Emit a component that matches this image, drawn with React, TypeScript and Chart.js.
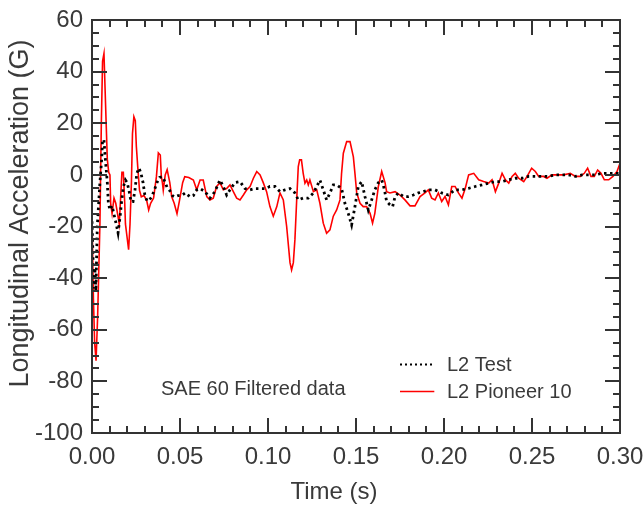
import React, { useEffect, useRef } from "react";
import { Chart, registerables } from "chart.js";

Chart.register(...registerables);

// ---- data ----
const testTime = [
  0, 0.0005, 0.001, 0.0016, 0.0022, 0.003, 0.0045, 0.0055, 0.006, 0.0068, 0.0076, 0.0087, 0.0093, 0.0102,
  0.0114, 0.0124, 0.0136, 0.0148, 0.016, 0.0167, 0.0178, 0.019, 0.02, 0.021, 0.0222, 0.0233, 0.0244, 0.0255,
  0.0267, 0.0278, 0.029, 0.03, 0.0312, 0.0323, 0.0339, 0.0354, 0.0369, 0.0384, 0.04, 0.041, 0.0426, 0.0441,
  0.0456, 0.047, 0.049, 0.051, 0.053, 0.0557, 0.0576, 0.0595, 0.0614, 0.0642, 0.067, 0.0698, 0.0727, 0.0746,
  0.0765, 0.0784, 0.0812, 0.0841, 0.0869, 0.0898, 0.0926, 0.0955, 0.0983, 0.1011, 0.104, 0.1068, 0.1097,
  0.1125, 0.1153, 0.1172, 0.12, 0.1229, 0.1258, 0.1277, 0.1295, 0.1314, 0.1333, 0.1352, 0.1371, 0.139, 0.1418,
  0.1437, 0.1456, 0.1475, 0.1494, 0.1513, 0.1532, 0.1551, 0.157, 0.1589, 0.1607, 0.1627, 0.1646, 0.1655,
  0.1665, 0.1674, 0.1693, 0.1708, 0.1722, 0.1741, 0.1769, 0.1797, 0.1826, 0.1854, 0.1883, 0.1911, 0.1949,
  0.1987, 0.2025, 0.2063, 0.2102, 0.214, 0.2178, 0.2216, 0.2254, 0.2292, 0.233, 0.2368, 0.2405, 0.2443,
  0.2481, 0.2519, 0.2557, 0.2594, 0.2633, 0.267, 0.2708, 0.2746, 0.2784, 0.2822, 0.286, 0.2898, 0.2936,
  0.2974, 0.3,
];
const testAccel = [
  -18, -30, -44, -36, -45, -20, -3, 6, 13.6, 13.5, 6, -3, -11, -13.6,
  -12, -15, -18.6, -22.5, -16, -11, -4.7, -2, -3, -6, -10.4, -10.4, -6, 0.7,
  2.6, 0.7, -3, -7.7, -10, -10, -8.5, -6, -3, -1, -0.7, -2, -4.7, -6,
  -8, -8.5, -8, -8, -7, -8.5, -8, -5.8, -5.3, -6.5, -9, -6.5, -2, -4.5,
  -7.8, -5.8, -3, -2.6, -5.3, -5.8, -5.3, -5.3, -5.3, -4.5, -4.5, -6.5, -5.8,
  -5.3, -7, -9.7, -9, -9, -7, -4.5, -2, -5.8, -9.7, -7, -3.9, -3.9, -5.3,
  -11, -14.9, -19.4, -12.3, -4.5, -2.6, -8.4, -13.6, -9.7, -5.8, -3, -2, -3.9,
  -7, -10.3, -11.6, -12.3, -8.4, -7, -8.4, -8.4, -7.8, -7, -6.5, -5.8, -5.8,
  -7, -7.8, -5.8, -5.8, -5.2, -4.5, -3.9, -3.2, -2.6, -2.6, -1.9, -1.3, -1.3,
  -0.6, -0.6, -0.6, -0.6, 0, 0, 0, -0.6, 0, 0, 0, 0.6, 0.6,
  0.6, 0.6,
];

const pioneerTime = [
  0, 0.0008, 0.0015, 0.0023, 0.0032, 0.0045, 0.0053, 0.006, 0.0068, 0.008, 0.0087, 0.0095, 0.0102, 0.0106,
  0.0114, 0.0125, 0.0135, 0.0155, 0.017, 0.0178, 0.0186, 0.019, 0.0208, 0.0216, 0.0224, 0.023, 0.0238, 0.0246,
  0.0252, 0.026, 0.027, 0.028, 0.0295, 0.031, 0.0322, 0.0333, 0.035, 0.0366, 0.0377, 0.0388, 0.0394, 0.04,
  0.0405, 0.0416, 0.0427, 0.0442, 0.0453, 0.0467, 0.0483, 0.0497, 0.0515, 0.0527, 0.055, 0.0576, 0.0595,
  0.0614, 0.0632, 0.0652, 0.067, 0.0689, 0.0708, 0.0727, 0.0746, 0.0765, 0.0784, 0.0803, 0.0822, 0.0841,
  0.086, 0.0879, 0.0898, 0.0917, 0.0936, 0.0955, 0.0973, 0.0992, 0.1011, 0.103, 0.105, 0.1068, 0.1087, 0.1106,
  0.1125, 0.1134, 0.1144, 0.1153, 0.1163, 0.1172, 0.118, 0.119, 0.12, 0.121, 0.122, 0.1229, 0.1238, 0.1258,
  0.1277, 0.1295, 0.1314, 0.1333, 0.1352, 0.1371, 0.139, 0.1409, 0.1418, 0.1428, 0.1447, 0.1466, 0.1485,
  0.1494, 0.1504, 0.1523, 0.1541, 0.156, 0.158, 0.1594, 0.1607, 0.1627, 0.1646, 0.1665, 0.1674, 0.1693,
  0.1722, 0.175, 0.1778, 0.1807, 0.1835, 0.1864, 0.1892, 0.1911, 0.193, 0.1949, 0.1968, 0.1987, 0.2006,
  0.2025, 0.2044, 0.2063, 0.2082, 0.2102, 0.2121, 0.214, 0.2169, 0.2197, 0.2225, 0.2254, 0.2273, 0.2292,
  0.2311, 0.233, 0.2349, 0.2368, 0.2387, 0.2405, 0.2424, 0.2453, 0.2472, 0.2498, 0.2519, 0.2538, 0.2566,
  0.2585, 0.2614, 0.2642, 0.268, 0.2718, 0.2746, 0.2775, 0.2797, 0.2816, 0.2835, 0.2854, 0.2873, 0.2892,
  0.2911, 0.2936, 0.296, 0.2983, 0.3,
];
const pioneerAccel = [
  -16, -48, -65, -72, -55, -19, 20, 44, 47, 21, 6, 1, 0, -11,
  -15, -9, -11, -19, 1, 1, -11, -19, -29, -19, -3, 16, 22.5, 21,
  11, 3, -6, -8.5, -8, -9.7, -13.6, -11, -9, -0.7, 8.5, 7.7, -0.7, -3,
  -6, 0, 2, -3, -8.5, -11, -15, -10, -3, -0.7, -1, -2, -5.8,
  -2, -2, -8.4, -9.7, -9, -4.5, -3, -5.8, -5.3, -3.9, -6.5, -9, -9.7,
  -7.8, -5.8, -4.5, -1.3, 1.3, 0, -3, -6.5, -12.3, -16, -12.3, -7, -9.7, -20,
  -34, -36.8, -34, -25, -9.7, 3.2, 5.8, 5.8, 0.6, -3.2, -2, -3.9, -2, -6.5,
  -5.8, -11, -18.7, -22.6, -21.3, -16, -13.6, -9.7, 0.6, 8.4, 12.9, 12.9, 7,
  0.6, -7, -11, -12.3, -12.3, -14.9, -18.7, -14.9, -4.5, 1.3, -3, -6.5, -7,
  -6.5, -7.8, -9.7, -12, -12, -8.4, -7, -5.8, -9, -9.7, -7, -10.3, -8.4,
  -11.6, -4.5, -4.5, -7, -9, -5.2, 0, 0.6, -1.9, -2.6, -3.2, -1.9, -6.5,
  -3.2, 0.6, -1.9, -3.2, -0.6, 0.6, -1.3, -2.6, -0.6, 2.6, 1.3, -0.6, -0.6,
  -1.3, 0, 0, 0, 0.6, -0.6, -0.6, 0.6, 2.6, -0.6, -0.6, 1.9, 0.6,
  -1.9, -1.9, -0.6, 1.3, 4.5,
];

const seriesLabels = ["L2 Test", "L2 Pioneer 10"];
const noteText = "SAE 60 Filtered data";
const xTitle = "Time (s)";
const yTitle = "Longitudinal Acceleration (G)";
const xRange = [0, 0.3];
const yRange = [-100, 60];

// ---- styles ----
const FONT = '"Liberation Sans", Arial, Helvetica, sans-serif';
const AXIS_COLOR = "#333333";
const TEXT_COLOR = "#3a3a3a";

const decorPlugin = {
  id: "decor",
  afterDatasetsDraw(chart: any) {
    const { ctx, chartArea: a, scales } = chart;
    const xs = scales.x;
    const ys = scales.y;
    ctx.save();
    // frame
    ctx.strokeStyle = AXIS_COLOR;
    ctx.lineWidth = 2;
    ctx.setLineDash([]);
    ctx.strokeRect(a.left, a.top, a.right - a.left, a.bottom - a.top);
    // inward ticks
    ctx.beginPath();
    for (let v = yRange[0]; v <= yRange[1]; v += 5) {
      const py = Math.round(ys.getPixelForValue(v));
      const len = v % 20 === 0 ? 15 : 7;
      ctx.moveTo(a.left, py);
      ctx.lineTo(a.left + len, py);
      ctx.moveTo(a.right, py);
      ctx.lineTo(a.right - len, py);
    }
    for (let i = 0; i <= 30; i++) {
      const px = Math.round(xs.getPixelForValue(i / 100));
      const len = i % 5 === 0 ? 15 : 7;
      ctx.moveTo(px, a.bottom);
      ctx.lineTo(px, a.bottom - len);
      ctx.moveTo(px, a.top);
      ctx.lineTo(px, a.top + len);
    }
    ctx.stroke();

    // legend
    const rows = [-73.3, -83.7];
    const x0 = xs.getPixelForValue(0.175);
    const x1 = xs.getPixelForValue(0.1945);
    const xt = xs.getPixelForValue(0.2017);
    ctx.font = `20px ${FONT}`;
    ctx.textBaseline = "middle";
    ctx.textAlign = "left";
    chart.data.datasets.forEach((ds: any, i: number) => {
      const py = Math.round(ys.getPixelForValue(rows[i])) + 0.5;
      ctx.beginPath();
      ctx.strokeStyle = ds.borderColor;
      ctx.lineWidth = i === 0 ? 2 : ds.borderWidth;
      ctx.setLineDash(i === 0 ? [2, 3] : []);
      ctx.moveTo(x0, py);
      ctx.lineTo(x1, py);
      ctx.stroke();
      ctx.setLineDash([]);
      ctx.fillStyle = TEXT_COLOR;
      ctx.fillText(ds.label, xt, py + 1);
    });

    // note
    ctx.fillText(noteText, xs.getPixelForValue(0.0392), ys.getPixelForValue(-83.2));

    // axis titles
    ctx.font = `24px ${FONT}`;
    ctx.textAlign = "center";
    ctx.fillText(xTitle, (a.left + a.right) / 2 - 22, a.bottom + 59);
    ctx.save();
    ctx.font = `27px ${FONT}`;
    ctx.translate(a.left - 71, (a.top + a.bottom) / 2 - 13);
    ctx.rotate(-Math.PI / 2);
    ctx.fillText(yTitle, 0, 0);
    ctx.restore();
    ctx.restore();
  },
};

export default function App() {
  const ref = useRef<HTMLCanvasElement | null>(null);
  useEffect(() => {
    if (!ref.current) return;
    const chart = new Chart(ref.current, {
      type: "line",
      data: {
        datasets: [
          {
            label: seriesLabels[0],
            data: testTime.map((t, i) => ({ x: t, y: testAccel[i] })),
            borderColor: "#000000",
            borderWidth: 2.8,
            borderDash: [2.5, 3.5],
            pointRadius: 0,
            tension: 0,
            fill: false,
          },
          {
            label: seriesLabels[1],
            data: pioneerTime.map((t, i) => ({ x: t, y: pioneerAccel[i] })),
            borderColor: "#ff0000",
            borderWidth: 1.6,
            pointRadius: 0,
            tension: 0,
            fill: false,
          },
        ],
      },
      options: {
        animation: false,
        responsive: false,
        maintainAspectRatio: false,
        devicePixelRatio: 1,
        layout: { padding: { top: 20, right: 24, left: 0, bottom: 0 } },
        plugins: {
          legend: { display: false },
          tooltip: { enabled: false },
          title: { display: false },
        },
        scales: {
          x: {
            type: "linear",
            min: xRange[0],
            max: xRange[1],
            grid: { display: false, drawTicks: false },
            border: { display: false },
            afterFit: (s: any) => {
              s.height = 75;
              s.paddingLeft = 0;
              s.paddingRight = 0;
            },
            ticks: {
              stepSize: 0.05,
              padding: 10,
              color: TEXT_COLOR,
              font: { family: FONT, size: 24 },
              maxRotation: 0,
              callback: (v: any) => Number(v).toFixed(2),
            },
          },
          y: {
            type: "linear",
            min: yRange[0],
            max: yRange[1],
            grid: { display: false, drawTicks: false },
            border: { display: false },
            afterFit: (s: any) => {
              s.width = 92;
              s.paddingTop = 0;
              s.paddingBottom = 0;
            },
            ticks: {
              stepSize: 20,
              padding: 9,
              color: TEXT_COLOR,
              font: { family: FONT, size: 24 },
            },
          },
        },
      },
      plugins: [decorPlugin],
    });
    return () => chart.destroy();
  }, []);
  return (
    <div style={{ position: "fixed", left: 0, top: 0, width: 644, height: 508, background: "#fff" }}>
      <canvas ref={ref} width={644} height={508} style={{ display: "block" }} />
    </div>
  );
}
